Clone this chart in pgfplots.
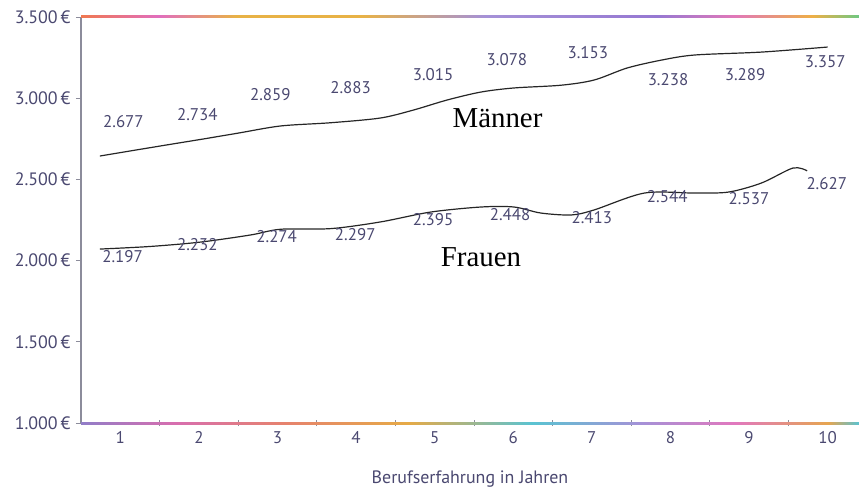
\documentclass[border=0pt]{standalone}
\usepackage{pgfplots}
\pgfplotsset{compat=1.18}
\usepackage{fontspec}
\setmainfont{PT Sans}
\newfontfamily\serifont{Liberation Serif}
\definecolor{lab}{RGB}{74,72,112}
\definecolor{yax}{RGB}{140,140,155}
\definecolor{t1}{RGB}{240,120,80}
\definecolor{t2}{RGB}{225,110,190}
\definecolor{t3}{RGB}{232,178,70}
\definecolor{t4}{RGB}{165,145,215}
\definecolor{t5}{RGB}{150,120,210}
\definecolor{t6}{RGB}{225,120,185}
\definecolor{t7}{RGB}{238,175,70}
\definecolor{t8}{RGB}{110,200,130}
\definecolor{b1}{RGB}{145,125,200}
\definecolor{b2}{RGB}{215,110,175}
\definecolor{b3}{RGB}{230,130,110}
\definecolor{b4}{RGB}{230,170,70}
\definecolor{b5}{RGB}{90,195,210}
\definecolor{b6}{RGB}{165,145,215}
\definecolor{b7}{RGB}{225,120,190}
\definecolor{b8}{RGB}{230,165,80}
\pgfdeclarehorizontalshading{topline}{100bp}{color(0bp)=(t1); color(25bp)=(t1); color(30bp)=(t2); color(35bp)=(t3); color(43bp)=(t3); color(51bp)=(t4); color(62bp)=(t5); color(67bp)=(t6); color(72bp)=(t7); color(75bp)=(t8); color(100bp)=(t8)}
\pgfdeclarehorizontalshading{botline}{100bp}{color(0bp)=(b1); color(25bp)=(b1); color(31bp)=(b2); color(38bp)=(b3); color(46bp)=(b4); color(54bp)=(b5); color(61bp)=(b6); color(67bp)=(b7); color(73bp)=(b8); color(75bp)=(b5); color(100bp)=(b5)}
\pgfplotstableread{
x y label
1.04 2853 2.677
1.98 2897 2.734
2.91 3020 2.859
3.93 3063 2.883
4.98 3143 3.015
5.92 3235 3.078
6.95 3278 3.153
7.97 3112 3.238
8.95 3143 3.289
9.97 3223 3.357
}\maennerlab
\pgfplotstableread{
x y label
1.03 2022 2.197
1.98 2096 2.232
2.99 2145 2.274
3.99 2158 2.297
4.98 2250 2.395
5.96 2281 2.448
7.00 2262 2.413
7.96 2392 2.544
9.00 2379 2.537
9.99 2472 2.627
}\frauenlab
\begin{document}
\begin{tikzpicture}
\begin{axis}[
  scale only axis, width=778bp, height=406bp,
  xmin=0.5, xmax=10.4, ymin=1000, ymax=3500,
  axis x line*=bottom, axis y line*=left,
  x axis line style={draw=none},
  y axis line style={draw=yax, line width=1.3bp, -},
  xtick={1,...,10},
  xticklabels={1,2,3,4,5,6,7,8,9,10},
  minor xtick={1.5,2.5,...,9.5},
  major x tick style={draw=none},
  minor x tick style={draw=yax, line width=0.8bp, yshift=3bp},
  minor tick length=6bp,
  ytick={1000,1500,...,3500},
  yticklabels={1.000\,€,1.500\,€,2.000\,€,2.500\,€,3.000\,€,3.500\,€},
  major y tick style={draw=yax, line width=0.8bp},
  major tick length=5bp,
  tick align=outside,
  /pgf/number format/assume math mode=true,
  xticklabel style={font=\fontsize{17}{17}\selectfont, text=lab},
  yticklabel style={font=\fontsize{18}{18}\selectfont, text=lab, xshift=-2bp},
  xlabel={Berufserfahrung in Jahren},
  xlabel style={font=\fontsize{18}{18}\selectfont, text=lab, yshift=-20bp},
  clip=false,
]
\addplot[smooth, line width=1.2bp, color=black!85] coordinates {
(0.74,2644) (1.5,2705) (2.02,2746) (2.5,2785) (3.04,2829) (3.68,2849)
(4.31,2878) (4.73,2927) (5.16,2989) (5.59,3038) (6.01,3063) (6.61,3080)
(7.03,3112) (7.45,3186) (7.89,3235) (8.31,3266) (9.16,3284) (10.0,3315)};
\addplot[smooth, line width=1.2bp, color=black!85] coordinates {
(0.74,2071) (1.38,2087) (2.02,2114) (2.66,2158) (3.04,2193) (3.68,2197) (4.31,2238)
(4.95,2299) (5.59,2330) (6.01,2330) (6.35,2293) (6.74,2281) (7.03,2312)
(7.67,2416) (8.31,2416) (8.74,2422) (9.16,2478) (9.56,2570) (9.74,2553)};
\addplot[draw=none, mark=none, nodes near coords, point meta=explicit symbolic,
  every node near coord/.style={anchor=center, inner sep=0pt, font=\fontsize{17}{17}\selectfont, text=lab}]
  table[x=x, y=y, meta=label] {\maennerlab};
\addplot[draw=none, mark=none, nodes near coords, point meta=explicit symbolic,
  every node near coord/.style={anchor=center, inner sep=0pt, font=\fontsize{17}{17}\selectfont, text=lab}]
  table[x=x, y=y, meta=label] {\frauenlab};
\node[font=\serifont\fontsize{29}{29}\selectfont, text=black] at (axis cs:5.80,2878) {Männer};
\node[font=\serifont\fontsize{29}{29}\selectfont, text=black] at (axis cs:5.59,2022) {Frauen};
\shade[shading=topline] ([yshift=-1bp]rel axis cs:0,1) rectangle ([yshift=1bp]rel axis cs:1,1);
\shade[shading=botline] ([yshift=-1bp]rel axis cs:0,0) rectangle ([yshift=1bp]rel axis cs:1,0);
\end{axis}
\pgfresetboundingbox
\path[use as bounding box] (-81bp,-65bp) rectangle (778bp,423bp);
\end{tikzpicture}
\end{document}
